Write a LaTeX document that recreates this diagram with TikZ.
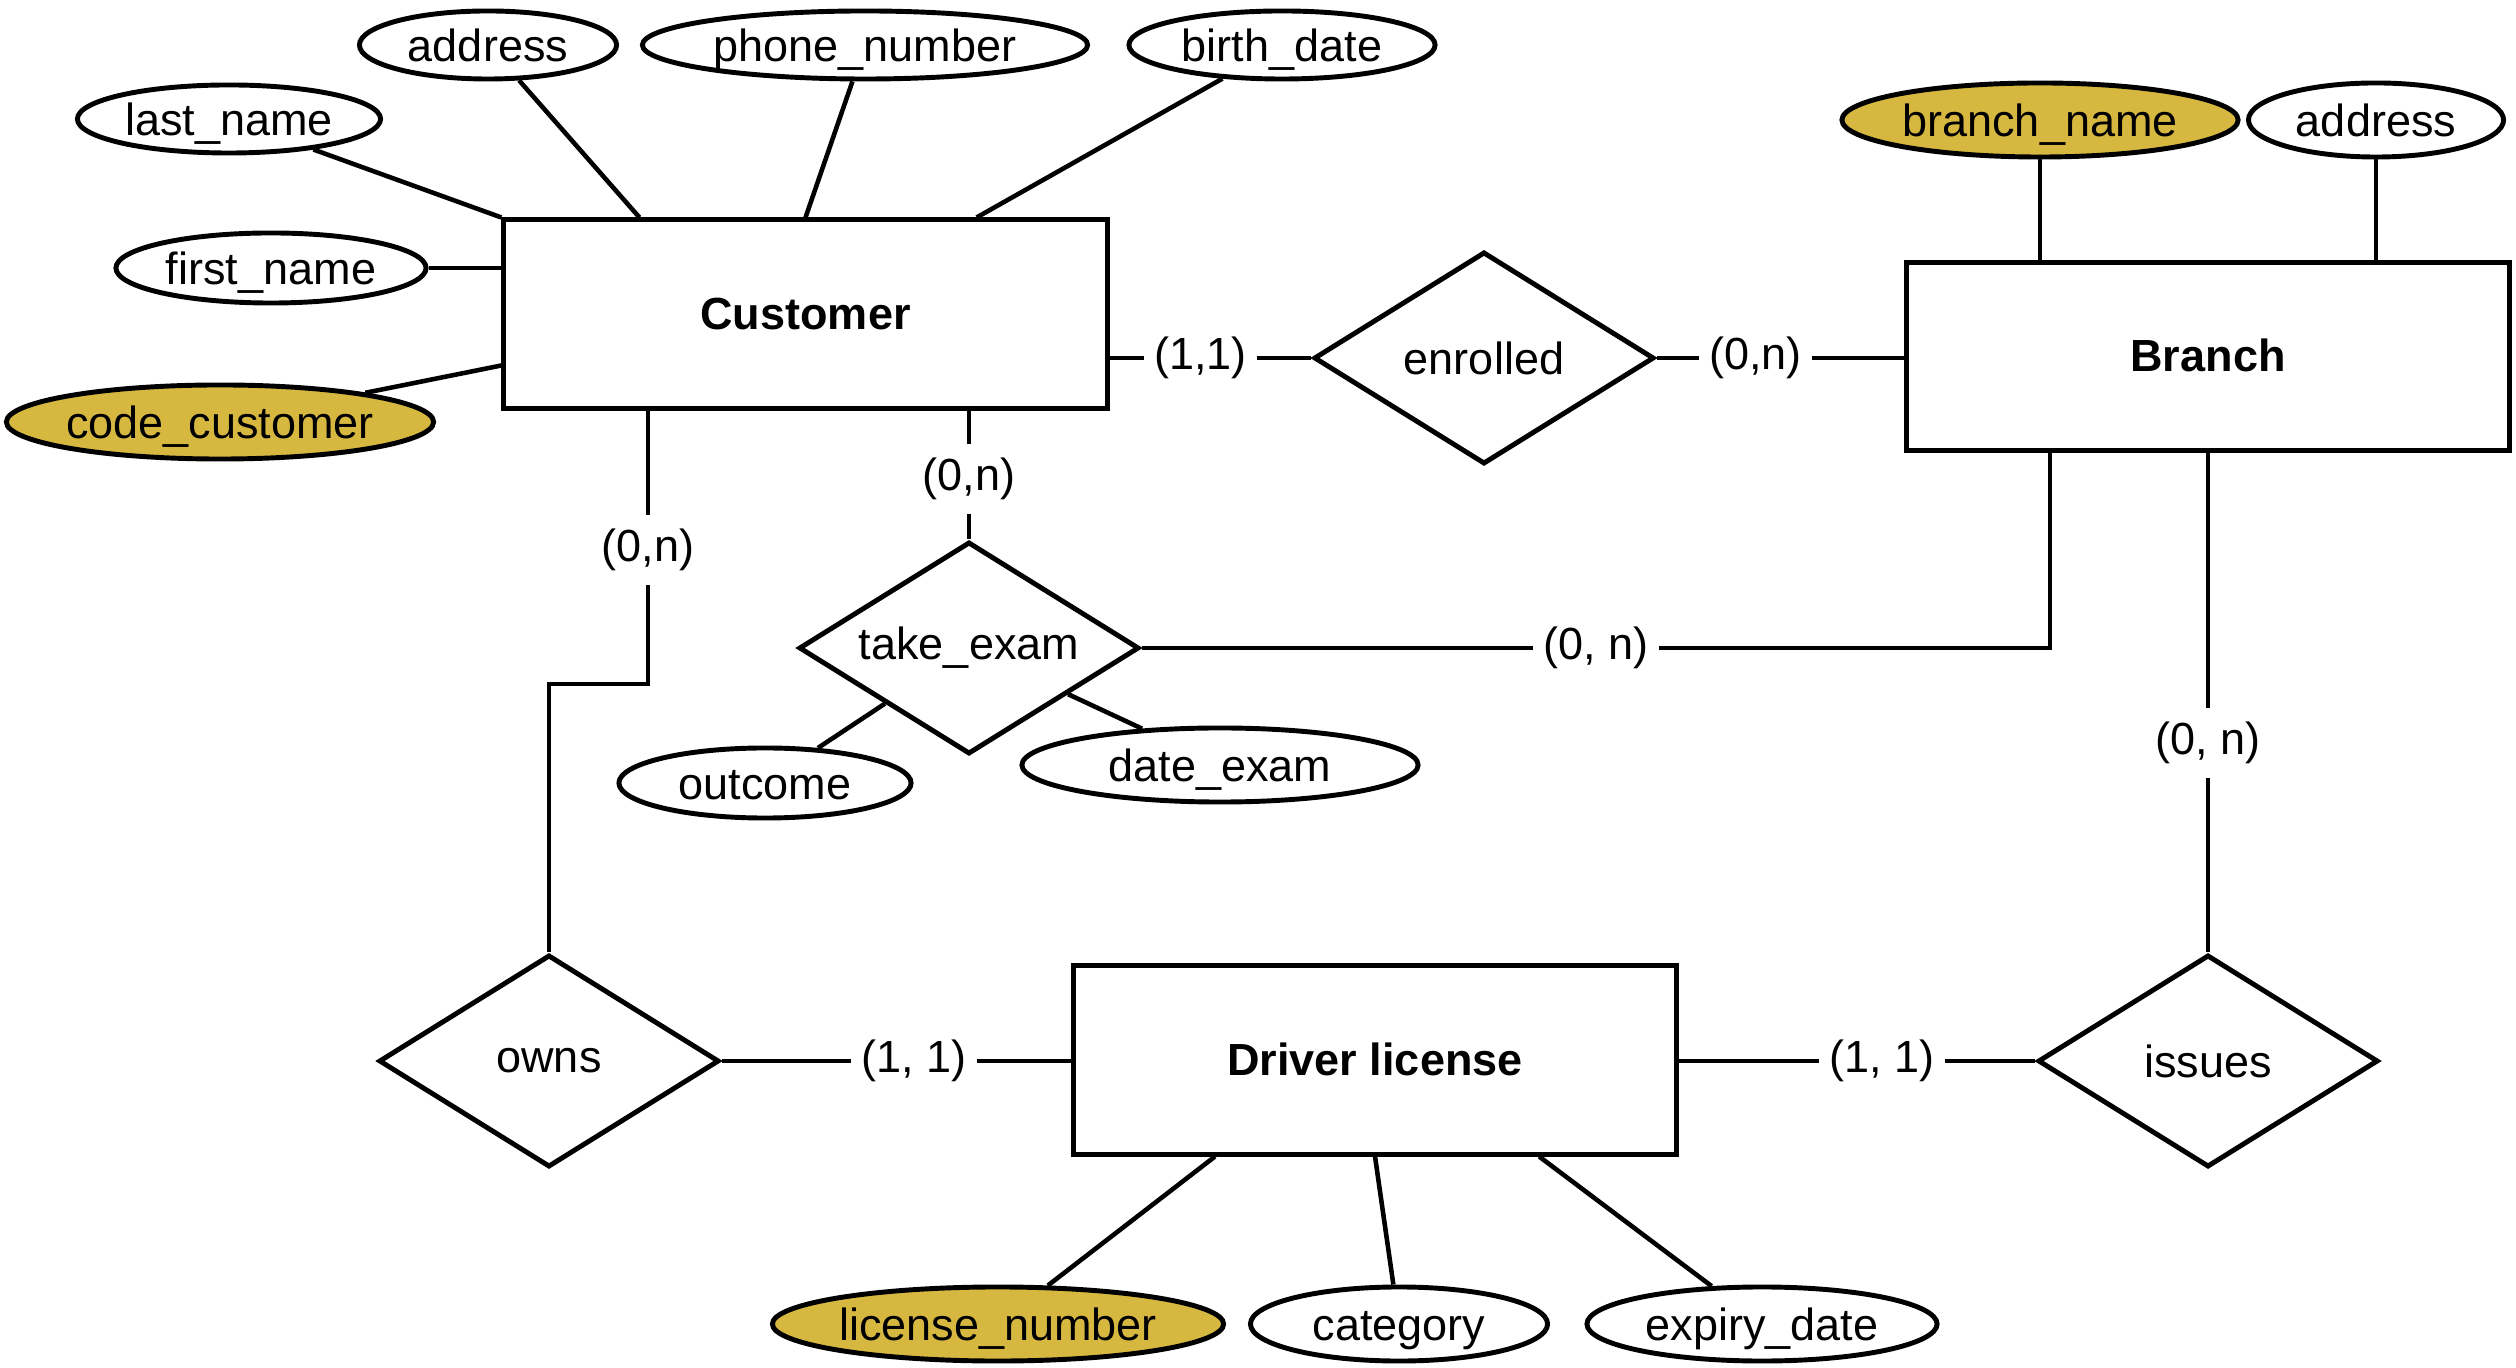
\documentclass[tikz,border=0pt]{standalone}
\usepackage{fontspec}
\setmainfont{Liberation Sans}
\usetikzlibrary{shapes.geometric,calc}
\definecolor{keygold}{RGB}{214,184,64}
\begin{document}
\begin{tikzpicture}[x=0.01cm,y=-0.01cm,
  font=\fontsize{12.8}{15}\selectfont,
  ent/.style={draw, line width=1.4pt, rectangle, minimum width=6.03cm, minimum height=1.88cm, inner sep=0pt, text height=0.86em, text depth=0pt, font=\fontsize{12.8}{15}\selectfont\bfseries},
  rel/.style={draw, line width=1.4pt, diamond, aspect=1.6, inner sep=0pt, minimum width=3.4cm, minimum height=2.12cm},
  attr/.style={draw, line width=1.4pt, ellipse, inner sep=0pt, minimum height=0.68cm, fill=white, text height=0.95em, text depth=0pt},
  keyattr/.style={attr, fill=keygold},
  lbl/.style={fill=white, inner xsep=3pt, inner ysep=4pt},
  conn/.style={line width=1.3pt}]
\useasboundingbox (0,0) rectangle (2516,1368);

% entities
\node[ent] (cust) at (805.5,314) {Customer};
\node[ent] (br) at (2208,356.5) {Branch};
\node[ent] (dl) at (1375,1060) {Driver license};

% relationships
\node[rel] (enr) at (1484,358) {enrolled};
\node[rel] (take) at (969,648) {take\_exam};
\node[rel] (owns) at (549,1061) {owns};
\node[rel] (iss) at (2208,1061) {issues};

% attributes
\node[attr, minimum width=2.57cm] (caddr) at (488,45) {address};
\node[attr, minimum width=4.45cm] (phone) at (865,45) {phone\_number};
\node[attr, minimum width=3.06cm] (birth) at (1282,45) {birth\_date};
\node[attr, minimum width=3.03cm] (last) at (229,119) {last\_name};
\node[attr, minimum width=3.10cm, minimum height=0.70cm] (first) at (271,268) {first\_name};
\node[keyattr, minimum width=4.27cm, minimum height=0.74cm, inner xsep=-1.2pt] (code) at (220,422) {code\_customer};
\node[keyattr, minimum width=3.96cm, minimum height=0.74cm] (bname) at (2040,120) {branch\_name};
\node[attr, minimum width=2.55cm, minimum height=0.74cm] (baddr) at (2376,120) {address};
\node[attr, minimum width=2.92cm, minimum height=0.70cm] (outc) at (765,783) {outcome};
\node[attr, minimum width=3.96cm, minimum height=0.74cm] (dexam) at (1220,765) {date\_exam};
\node[keyattr, minimum width=4.51cm, minimum height=0.74cm] (lic) at (998,1324) {license\_number};
\node[attr, minimum width=2.97cm, minimum height=0.74cm] (cat) at (1399,1324) {category};
\node[attr, minimum width=3.50cm, minimum height=0.74cm] (exp) at (1762,1324) {expiry\_date};

% connectors
\draw[conn] (last) -- (cust.north west);
\draw[conn] (caddr) -- ([xshift=1.38cm]cust.north west);
\draw[conn] (phone) -- (cust.north);
\draw[conn] (birth) -- ([xshift=4.75cm]cust.north west);
\draw[conn] (first.east) -- (first.east -| cust.west);
\draw[conn] (code) -- ([yshift=0.45cm]cust.south west);
\draw[conn] (cust.east |- enr.west) -- node[lbl,pos=0.45]{(1,1)} (enr.west);
\draw[conn] (enr.east) -- node[lbl,pos=0.4]{(0,n)} (enr.east -| br.west);
\draw[conn] (bname) -- (bname |- br.north);
\draw[conn] (baddr) -- (baddr |- br.north);
\draw[conn] (cust.south -| take.north) -- node[lbl,pos=0.53]{(0,n)} (take.north);
\coordinate (owk) at (648,684);
\draw[conn] (owk |- cust.south) -- node[lbl,pos=0.51]{(0,n)} (owk) -| (owns.north);
\draw[conn] (take.east) -| node[lbl,pos=0.25]{(0, n)} ([xshift=1.46cm]br.south west);
\draw[conn] (take) -- (outc);
\draw[conn] (take) -- (dexam);
\draw[conn] (br.south) -- node[lbl,pos=0.58]{(0, n)} (iss.north);
\draw[conn] (owns.east) -- node[lbl,pos=0.55]{(1, 1)} (owns.east -| dl.west);
\draw[conn] (dl.east |- iss.west) -- node[lbl,pos=0.57]{(1, 1)} (iss.west);
\draw[conn] (lic) -- ([xshift=1.44cm]dl.south west);
\draw[conn] (cat) -- (dl.south);
\draw[conn] (exp) -- ([xshift=4.68cm]dl.south west);
\end{tikzpicture}
\end{document}
